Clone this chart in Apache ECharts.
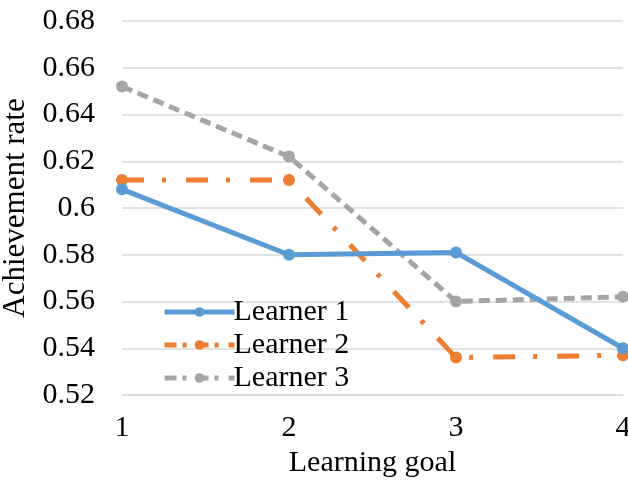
<!DOCTYPE html>
<html><head><meta charset="utf-8">
<script src="https://cdn.jsdelivr.net/npm/echarts@6/dist/echarts.min.js"></script>
<style>html,body{margin:0;padding:0;background:#fff}#c{width:628px;height:482px}</style>
</head><body><div id="c"></div>
<script>
const categories = ['1','2','3','4'];
const learner1 = [0.608, 0.580, 0.581, 0.540];
const learner2 = [0.612, 0.612, 0.536, 0.537];
const learner3 = [0.652, 0.622, 0.560, 0.562];
const seriesNames = ['Learner 1','Learner 2','Learner 3'];
const yTicks = {min:0.52, max:0.68, step:0.02};

const font = "'Liberation Serif', 'Times New Roman', serif";
const colors = ['#5B9BD5','#ED7D31','#A5A5A5'];
const dashes = ['solid',[22,18,4,20],[11,6]];
const datas = [learner1, learner2, learner3];

const chart = echarts.init(document.getElementById('c'));
chart.setOption({
  animation:false,
  grid:{left:122,right:5,top:21,bottom:87,outerBoundsMode:'none',containLabel:false},
  legend:{
    left:157, top:292, orient:'vertical', itemWidth:70, itemHeight:12, itemGap:3,
    textStyle:{fontFamily:font,fontSize:30,color:'#000',padding:[0,0,0,-6]},
    data:seriesNames.map((n,i)=>({name:n, itemStyle:{color:colors[i]},
      lineStyle:{width:5,type:dashes[i]==='solid'?'solid':[12,6,4,10],color:colors[i]}}))
  },
  xAxis:{
    type:'category', data:categories, boundaryGap:false,
    axisLine:{lineStyle:{color:'#D9D9D9',width:1.5}}, axisTick:{show:false},
    axisLabel:{fontFamily:font,fontSize:30,color:'#000',margin:18,
      alignMinLabel:'center',alignMaxLabel:'center',hideOverlap:false},
    name:'Learning goal', nameLocation:'middle', nameGap:51,
    nameTextStyle:{fontFamily:font,fontSize:30,color:'#000'}
  },
  yAxis:{
    type:'value', min:yTicks.min, max:yTicks.max, interval:yTicks.step,
    axisLine:{show:false}, axisTick:{show:false},
    splitLine:{lineStyle:{color:'#D9D9D9',width:1.5}},
    axisLabel:{fontFamily:font,fontSize:30,color:'#000',margin:27,
      formatter:v=>String(parseFloat(v.toFixed(2)))},
    name:'Achievement rate', nameLocation:'middle', nameGap:89,
    nameTextStyle:{fontFamily:font,fontSize:31,color:'#000'}
  },
  series: seriesNames.map((n,i)=>({
    name:n, type:'line', data:datas[i], symbol:'circle', symbolSize:12,
    itemStyle:{color:colors[i]},
    lineStyle:{color:colors[i],width:5,type:dashes[i],cap:'butt'},
    z: i===0?3:2
  }))
});
</script></body></html>
